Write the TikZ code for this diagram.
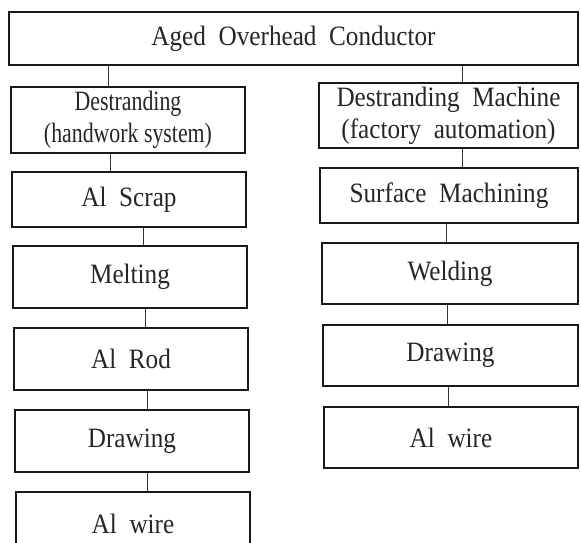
\documentclass[tikz,border=0pt]{standalone}
\usepackage{fontspec}
\setmainfont[WordSpace=2, FakeStretch=0.9]{Liberation Serif}
\newfontfamily\narrowserif[FakeStretch=0.78]{Liberation Serif}

\begin{document}
\begin{tikzpicture}
	[
		x=1pt, y=-1pt,
		stage/.style={draw=black!90, line width=1.6pt, fill=white, text=black!85, align=center, inner sep=0pt, font=\fontsize{28}{32}\selectfont},
		link/.style={draw=black!80, line width=1pt}
	]
	\useasboundingbox (0,0) rectangle (581,543);
	\clip (0,0) rectangle (581,543);
	% Source
	\node[stage, minimum width=569pt, minimum height=53pt] (source) at (293.5,38.5) {Aged Overhead Conductor};
	% Handwork route
	\node[stage, minimum width=234pt, minimum height=66pt, font=\narrowserif\fontsize{28}{32}\selectfont] (handwork) at (128,120) {Destranding\\(handwork system)};
	\foreach \n/\cx/\cy/\h/\txt in {scrap/129/199.5/55/Al Scrap, melt/130/277/62/Melting, rod/131/359/62/Al Rod, drawL/132/441/62/Drawing, wireL/133/523.5/63/Al wire} {
			\node[stage, minimum width=234pt, minimum height=\h pt] (\n) at (\cx,\cy) {\txt};
		}
	% Factory route
	\node[stage, minimum width=259pt, minimum height=65pt] (machine) at (448.5,115.5) {Destranding Machine\\(factory automation)};
	\foreach \n/\cx/\cy/\w/\h/\txt in {surface/449/195.5/258/55/Surface Machining, weld/450/273.5/256/61/Welding, drawR/450.5/355.5/255/61/Drawing, wireR/451/437.5/254/61/Al wire} {
			\node[stage, minimum width=\w pt, minimum height=\h pt] (\n) at (\cx,\cy) {\txt};
		}
	% Links
	\foreach \lo/\hi/\dx in {handwork/source/-20, scrap/handwork/-19, melt/scrap/13, rod/melt/14, drawL/rod/15, wireL/drawL/14, machine/source/13.5, surface/machine/13, weld/surface/-4, drawR/weld/-3.5, wireR/drawR/-3} {
			\coordinate (j) at ([xshift=\dx pt]\lo.north);
			\draw[link] (j) -- (j |- \hi.south);
		}
\end{tikzpicture}
\end{document}
